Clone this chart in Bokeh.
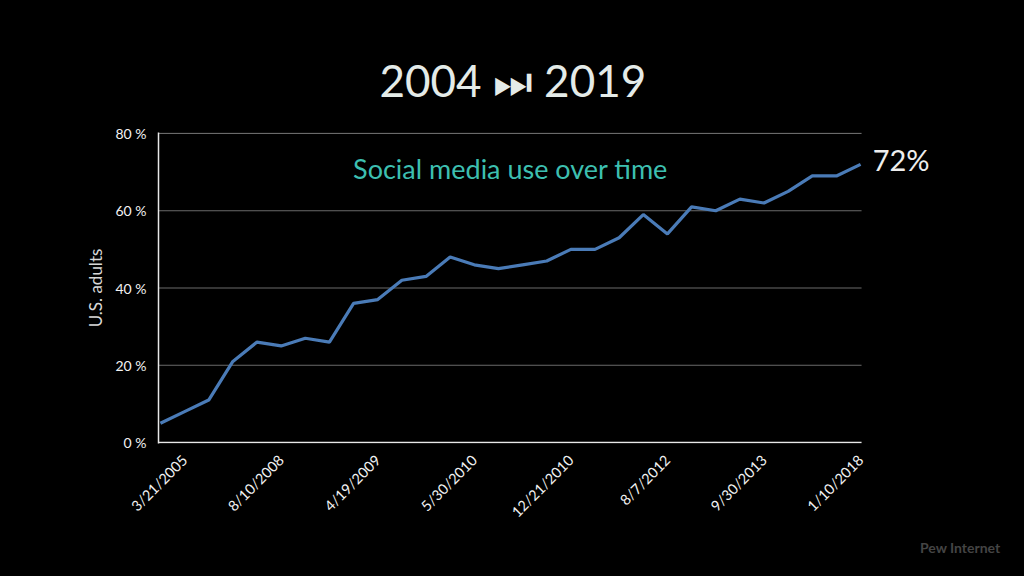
from bokeh.plotting import figure
from bokeh.models import Range1d, FixedTicker, Label, ColumnDataSource, LinearAxis, Title
from bokeh.embed import file_html
from bokeh.resources import INLINE
import math

# ---- data ----
values = [5, 8, 11, 21, 26, 25, 27, 26, 36, 37, 42, 43, 48, 46, 45,
          46, 47, 50, 50, 53, 59, 54, 61, 60, 63, 62, 65, 69, 69, 72]
tick_index = [0, 4, 8, 12, 16, 20, 24, 28]
tick_labels = ["3/21/2005", "8/10/2008", "4/19/2009", "5/30/2010",
               "12/21/2010", "8/7/2012", "9/30/2013", "1/10/2018"]
y_ticks = [0, 20, 40, 60, 80]
title_text = "2004 \u23ED 2019"
subtitle = "Social media use over time"
end_label = "72%"
source_text = "Pew Internet"

FONT = "Lato"
n = len(values)
xs = list(range(n))
src = ColumnDataSource(data=dict(x=xs, y=values))

X0 = -0.08
X_END = n - 1 + 0.04          # end of the plotted area (grid lines stop here)
X1 = 32.31                    # frame extends right to hold the end label
SHIFT = 1.0                   # rotated labels are centred under their category
p = figure(width=1024, height=576, output_backend="svg", toolbar_location=None,
           x_range=Range1d(X0, X1), y_range=Range1d(-0.25, 80.25),
           x_axis_location=None,
           min_border_left=158, min_border_right=84, min_border_top=132,
           min_border_bottom=133)
p.extra_x_ranges = {"lab": Range1d(X0 - SHIFT, X1 - SHIFT)}
p.background_fill_color = None
p.border_fill_color = "black"
p.outline_line_color = None
p.xgrid.visible = False
p.ygrid.visible = False

# grid lines and bottom axis line, limited to the data area
gy = y_ticks[1:]
p.segment(x0=[X0] * len(gy), x1=[X_END] * len(gy), y0=gy, y1=gy,
          line_color="#6a6a6a", line_width=1.2)
p.segment(x0=[X0], x1=[X_END], y0=[0], y1=[0], line_color="#e8e8e8", line_width=1.6)

p.line("x", "y", source=src, line_color="#4a7bb7", line_width=3.2)

xax = LinearAxis(x_range_name="lab")
p.add_layout(xax, "below")
xax.ticker = FixedTicker(ticks=tick_index)
xax.major_label_overrides = {i: l for i, l in zip(tick_index, tick_labels)}
xax.major_label_orientation = math.pi / 4
xax.axis_line_color = None
p.yaxis.ticker = FixedTicker(ticks=y_ticks)
p.yaxis.major_label_overrides = {v: f"{v} %" for v in y_ticks}
p.yaxis.axis_line_color = "#e8e8e8"
p.yaxis.axis_line_width = 1.5
for ax in (xax, p.yaxis[0]):
    ax.major_tick_line_color = None
    ax.minor_tick_line_color = None
    ax.major_label_text_color = "#f2f2f2"
    ax.major_label_text_font = FONT
    ax.major_label_text_font_size = "14px"
xax.major_label_text_font_size = "14.5px"
xax.major_label_standoff = 8
p.yaxis.major_label_standoff = 6
p.yaxis.axis_label = "U.S. adults"
p.yaxis.axis_label_text_color = "#d8d8d8"
p.yaxis.axis_label_text_font = FONT
p.yaxis.axis_label_text_font_size = "17px"
p.yaxis.axis_label_text_font_style = "normal"
p.yaxis.axis_label_standoff = 6

# texts
p.add_layout(Title(text=title_text, align="left", offset=221, standoff=54,
                   text_color="#e4ebe8", text_font=FONT, text_font_size="44px",
                   text_font_style="normal"), "above")
p.add_layout(Title(text=source_text, align="right", offset=-60, standoff=14,
                   text_color="#444444", text_font=FONT, text_font_size="14px",
                   text_font_style="bold"), "below")
p.add_layout(Label(x=14.5, y=70.9, text=subtitle, text_color="#3dbfb0",
                   text_font=FONT, text_font_size="27px", text_align="center",
                   text_baseline="middle"))
p.add_layout(Label(x=n - 1 + 0.5, y=values[-1] + 1.3, text=end_label,
                   text_color="#eeeeee", text_font=FONT, text_font_size="29px",
                   text_align="left", text_baseline="middle"))

html = file_html(p, INLINE)
html = html.replace("<head>", "<head><style>html,body{background:#000;margin:0;}</style>", 1)
open("out.html", "w").write(html)
